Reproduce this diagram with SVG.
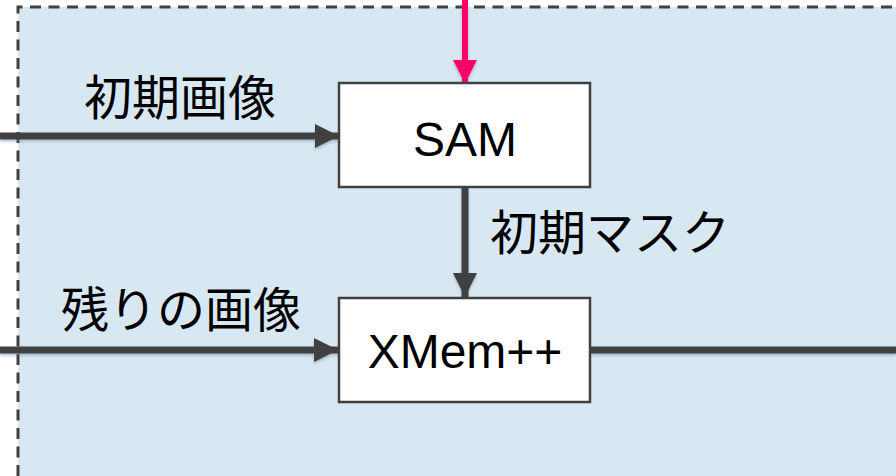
<svg xmlns="http://www.w3.org/2000/svg" width="896" height="476" viewBox="0 0 896 476">
  <defs>
    <style>
      .panel { fill: #D8E8F2; }
      .border { fill: none; stroke: #404040; stroke-width: 3; stroke-dasharray: 11 7.5; }
      .box { fill: #FFFFFF; stroke: #404040; stroke-width: 2.5; }
      .conn { stroke: #404040; stroke-width: 7; fill: none; }
      .pink { stroke: #FF0066; stroke-width: 6; fill: none; }
      .lbl { font-family: "Noto Sans CJK JP", "Noto Sans", sans-serif; font-size: 48px; fill: #000; }
      .nodetxt { font-family: "Liberation Sans", Arial, sans-serif; font-size: 48px; fill: #000; text-anchor: middle; }
    </style>
    <marker id="ah" markerUnits="userSpaceOnUse" markerWidth="24" markerHeight="24" refX="24" refY="12" orient="auto" viewBox="0 0 24 24">
      <path d="M0,0 L24,12 L0,24 Z" fill="#404040"/>
    </marker>
    <marker id="ahp" markerUnits="userSpaceOnUse" markerWidth="24" markerHeight="24" refX="23" refY="12" orient="auto" viewBox="0 0 24 24">
      <path d="M0,0 L24,12 L0,24 Z" fill="#FF0066"/>
    </marker>
    <filter id="sh" x="-5%" y="-50%" width="110%" height="200%">
      <feDropShadow dx="0" dy="2" stdDeviation="1.5" flood-color="#5A7890" flood-opacity="0.45"/>
    </filter>
  </defs>

  <rect x="0" y="0" width="896" height="476" fill="#FFFFFF"/>
  <rect class="panel" x="18" y="7" width="900" height="480"/>
  <path class="border" d="M18,476 L18,7 L896,7"/>

  <g id="connectors" filter="url(#sh)">
    <line class="pink" x1="465" y1="0" x2="465" y2="83" marker-end="url(#ahp)"/>
    <line class="conn" x1="0" y1="136" x2="339" y2="136" marker-end="url(#ah)"/>
    <line class="conn" x1="465" y1="187" x2="465" y2="297" marker-end="url(#ah)"/>
    <line class="conn" x1="0" y1="350" x2="338" y2="350" marker-end="url(#ah)"/>
    <line class="conn" x1="590" y1="350" x2="896" y2="350"/>
  </g>

  <g id="labels">
    <text class="lbl" x="84" y="115">初期画像</text>
    <text class="lbl" x="490" y="250">初期マスク</text>
    <text class="lbl" x="61" y="327">残りの画像</text>
  </g>

  <g id="sam">
    <rect class="box" x="339" y="83" width="251" height="104"/>
    <text class="nodetxt" x="465" y="156">SAM</text>
  </g>

  <g id="xmem">
    <rect class="box" x="339" y="298" width="251" height="104"/>
    <text class="nodetxt" x="465" y="368">XMem++</text>
  </g>
</svg>
